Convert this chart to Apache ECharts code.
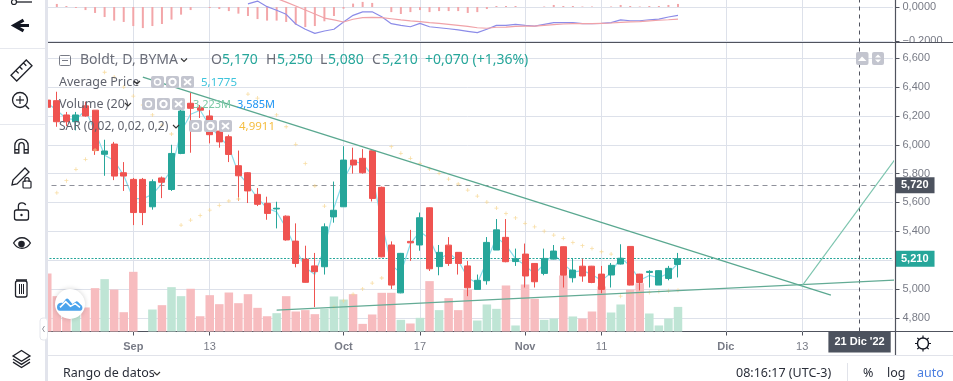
<!DOCTYPE html>
<html><head><meta charset="utf-8">
<style>html,body{margin:0;padding:0;background:#fff}#c{width:953px;height:381px}</style>
<script src="https://cdn.jsdelivr.net/npm/echarts@6/dist/echarts.min.js"></script>
</head><body><div id="c"></div>
<script>
// [open, close, low, high]
const candles = [
[6.31,6.26,6.25,6.33],[6.306,6.16,6.125,6.368],[6.207,6.16,6.13,6.228],[6.16,6.207,6.10,6.228],[6.27,6.20,6.195,6.298],
[6.24,5.96,5.93,6.24],[5.934,5.957,5.785,6.035],[6.005,5.783,5.755,6.02],[5.806,5.783,5.68,5.88],[5.76,5.53,5.443,5.77],
[5.76,5.53,5.443,5.77],[5.57,5.744,5.55,5.76],[5.77,5.74,5.63,5.78],[5.69,5.94,5.68,6.0],[5.94,6.234,5.935,6.26],
[6.288,6.253,5.945,6.36],[6.257,6.24,6.186,6.276],[6.2,6.07,6.01,6.24],[6.095,6.02,5.98,6.13],[6.056,5.933,5.88,6.07],
[5.855,5.785,5.61,5.96],[5.806,5.68,5.596,5.81],[5.656,5.587,5.575,5.70],[5.594,5.524,5.48,5.64],[5.555,5.56,5.42,5.605],
[5.505,5.34,5.335,5.51],[5.332,5.177,5.15,5.455],[5.207,5.046,5.044,5.30],[5.16,5.12,4.874,5.25],[5.154,5.431,5.10,5.455],
[5.50,5.546,5.46,5.745],[5.57,5.894,5.57,5.99],[5.894,5.86,5.80,5.98],[5.906,5.806,5.80,5.97],[5.958,5.628,5.607,5.96],
[5.705,5.223,5.22,5.71],[5.305,5.027,5.0,5.33],[4.973,5.247,4.97,5.25],[5.33,5.32,5.195,5.41],[5.305,5.494,5.265,5.53],
[5.563,5.14,5.125,5.565],[5.155,5.254,5.095,5.305],[5.304,5.177,5.16,5.36],[5.254,5.177,5.10,5.256],[5.16,5.008,4.95,5.195],
[4.997,5.06,4.997,5.10],[5.057,5.323,5.03,5.36],[5.27,5.41,5.27,5.485],[5.358,5.189,5.185,5.485],[5.19,5.21,5.16,5.28],
[5.242,5.09,5.01,5.315],[5.177,5.05,5.01,5.18],[5.108,5.212,5.095,5.28],[5.207,5.263,5.205,5.305],[5.293,5.096,5.01,5.295],
[5.078,5.131,5.045,5.215],[5.158,5.09,5.05,5.21],[5.158,5.045,5.04,5.16],[5.103,4.997,4.97,5.16],[5.097,5.164,5.01,5.18],
[5.173,5.213,5.17,5.31],[5.295,5.027,5.025,5.297],[5.103,5.045,4.99,5.105],[5.115,5.122,5.01,5.13],[5.027,5.127,5.027,5.13],
[5.073,5.143,5.06,5.16],[5.17,5.21,5.08,5.25]];
const avgPrice = [6.29,6.24,6.181,6.174,6.241,6.093,5.928,5.891,5.787,5.626,5.626,5.656,5.73,5.828,6.092,6.212,6.24,6.13,6.056,5.985,
5.803,5.723,5.63,5.56,5.535,5.423,5.279,5.149,5.101,5.285,5.563,5.756,5.884,5.871,5.788,5.465,5.166,5.11,5.314,5.399,
5.348,5.202,5.25,5.197,5.078,5.039,5.193,5.359,5.304,5.21,5.164,5.104,5.174,5.245,5.174,5.117,5.127,5.101,5.058,5.113,
5.217,5.161,5.061,5.094,5.078,5.109,5.1775];
const sar = [null,5.667,5.751,5.83,5.899,5.964,6.503,6.47,6.40,6.338,6.276,6.207,6.137,6.075,5.443,5.478,5.51,5.547,5.58,5.61,
5.624,6.352,6.324,6.269,6.207,6.125,6.003,5.871,5.714,5.575,4.874,4.918,4.964,5.0,5.041,5.076,5.987,5.941,5.906,5.871,
5.832,5.802,5.762,5.728,5.686,5.644,5.603,5.561,5.524,5.493,5.455,5.431,5.401,5.374,5.351,5.323,5.3,5.281,5.258,5.242,
4.95,4.969,4.971,4.976,4.983,4.987,4.991];
const volume = [7.6,4.63,3.67,3.2,3.15,5.68,6.86,5.5,2.53,7.82,0,2.88,3.45,5.81,4.63,5.6,2.0,4.76,3.58,5.11,
3.71,4.89,3.1,2.0,2.4,4.63,2.62,2.8,2.27,2.97,4.59,4.19,4.89,1.0,2.23,5.07,5.07,1.53,1.05,1.79,
6.6,2.8,4.37,2.8,5.5,1.44,3.54,2.97,6.03,0.79,6.16,4.28,1.53,1.7,7.34,1.97,1.7,2.62,5.9,2.49,
3.54,5.5,6.33,2.36,0.79,1.7,3.223];
const volumeUp = [0,0,0,1,0,0,1,0,0,0,0,1,0,1,1,0,0,0,0,0,0,0,0,0,1,0,0,0,0,1,1,1,0,0,0,0,0,1,0,1,0,1,0,0,0,1,1,1,0,1,0,0,1,1,0,1,0,0,0,1,1,0,0,1,1,1,1];
const macdHist = [0,.018,.006,-.006,-.018,-.035,-.059,-.08,-.088,-.112,-.124,-.112,-.1,-.074,-.045,-.018,0,-.006,-.012,-.024,
-.039,-.053,-.071,-.08,-.08,-.088,-.104,-.118,-.112,-.084,-.053,-.01,.02,.03,.024,0,-.03,-.041,-.03,-.018,
-.03,-.024,-.024,-.024,-.035,-.03,-.012,.006,.006,.006,0,0,.003,.012,.006,.006,.003,.003,0,.003,
.012,.006,.003,.006,.006,.012,.018];
const macdLine = [null,null,null,null,null,null,null,null,null,null,null,null,null,null,null,null,null,null,null,null,null,
.018,.035,.002,-.019,-.043,-.1,-.131,-.155,-.141,-.131,-.088,-.049,-.029,-.028,-.057,-.098,-.108,-.116,-.096,-.116,-.122,
-.128,-.135,-.143,-.151,-.131,-.108,-.108,-.102,-.108,-.112,-.102,-.092,-.092,-.092,-.098,-.098,-.096,-.092,-.076,-.081,
-.081,-.075,-.071,-.059,-.049];
const signalLine = [null,null,null,null,null,null,null,null,null,null,null,null,null,null,null,null,null,null,null,null,null,null,null,null,.05,
.029,.006,-.018,-.041,-.065,-.076,-.088,-.072,-.063,-.061,-.063,-.069,-.076,-.082,-.086,-.092,-.096,-.102,-.108,-.114,-.122,
-.125,-.119,-.118,-.114,-.112,-.112,-.108,-.104,-.1,-.098,-.098,-.098,-.096,-.094,-.09,-.088,-.086,-.082,-.078,-.075,-.071];
const trendDown = [[10,6.47],[82,4.957]];
const trendLow = [[24,4.853],[89,5.063]];
const trendUp = [[79,5.023],[89,5.925]];
const priceTicks = [4.8,5.0,5.2,5.4,5.6,5.8,6.0,6.2,6.4,6.6];
const macdTicks = [0,-0.2];
const xTickIndex = [9,17,31,39,50,58,71,79];
const xTickLabels = ['Sep','13','Oct','17','Nov','11','Dic','13'];
const cursorIndex = 85;
const cursorLabel = "21 Dic '22";
const lastPrice = 5.21, refPrice = 5.72;

const BAR_COUNT = 89;
const categories = Array.from({length:BAR_COUNT},(_,i)=>{const k=xTickIndex.indexOf(i);return k>=0?xTickLabels[k]:'';});
const isTick = i => xTickIndex.indexOf(i)>=0;
const UI='"Noto Sans",sans-serif', AX='"Liberation Sans",Arial,sans-serif';
const RED='#ef5350', GREEN='#26a69a', GRID='#dde1ea';
const comma = (v,d)=>v.toFixed(d).replace('.',',').replace('-','\u2212');

function T(text,x,y,fill,size,extra){
  return {type:'text',z:110,style:Object.assign({text,x,y,fill,font:(size||12)+'px '+UI,textVerticalAlign:'middle'},extra||{})};
}
let iconId=0;
function P(d,x,y,w,h,st){
  const nums=d.match(/-?\d+(\.\d+)?/g).map(Number);
  let x0=1e9,x1=-1e9,y0=1e9,y1=-1e9;
  for(let i=0;i<nums.length;i+=2){x0=Math.min(x0,nums[i]);x1=Math.max(x1,nums[i]);y0=Math.min(y0,nums[i+1]);y1=Math.max(y1,nums[i+1]);}
  const s=Math.min(w/(x1-x0),h/(y1-y0));
  const name='tvicon'+(iconId++);
  echarts.graphic.registerShape(name,echarts.graphic.extendPath(d,{}));
  return {type:name,z:110,x:x+(w-(x1-x0)*s)/2-x0*s,y:y+(h-(y1-y0)*s)/2-y0*s,scaleX:s,scaleY:s,
    style:Object.assign({fill:'none',stroke:'#1f2129',lineWidth:1.3,strokeNoScale:true},st||{})};
}
function R(x,y,w,h,fill,r){return {type:'rect',z:105,shape:{x,y,width:w,height:h,r:r||0},style:{fill}};}
function L(x1,y1,x2,y2,c,lw){return {type:'line',z:106,shape:{x1,y1,x2,y2},style:{stroke:c,lineWidth:lw||1}};}
function buttons(x,y){
  const out=[];
  [0,15,30].forEach((dx,i)=>{
    out.push(Object.assign(R(x+dx,y,13,12,'#c3c5cf',2),{z:108}));
    if(i==0){out.push({type:'circle',z:109,shape:{cx:x+6.5,cy:y+6,r:3},style:{fill:'#c3c5cf',stroke:'#fff',lineWidth:1.5}});}
    if(i==1){out.push({type:'circle',z:109,shape:{cx:x+21.5,cy:y+6,r:3.2},style:{fill:'#c3c5cf',stroke:'#fff',lineWidth:2}});}
    if(i==2){out.push({type:'line',z:109,shape:{x1:x+33,y1:y+3,x2:x+40,y2:y+9},style:{stroke:'#fff',lineWidth:1.8}});
             out.push({type:'line',z:109,shape:{x1:x+40,y1:y+3,x2:x+33,y2:y+9},style:{stroke:'#fff',lineWidth:1.8}});}
  });
  return out;
}
function chev(x,y,c){return {type:'polyline',z:110,shape:{points:[[x,y],[x+3,y+3],[x+6,y]]},style:{stroke:c||'#333',lineWidth:1.1,fill:'none'}};}

const chrome = [
  R(0,0,45,381,'#ffffff'), R(45,0,3,381,'#e2e4ec'),
  L(0,48.5,45,48.5,'#e6e8ee'), L(0,124.5,45,124.5,'#e6e8ee'),
  L(11,2,32,2,'#1f2129',1.3), {type:'circle',z:110,shape:{cx:14,cy:2,r:2.5},style:{fill:'#fff',stroke:'#1f2129',lineWidth:1.2}},
  P('M20 4 L6 12 L20 20 M6 12 L28 12',14,16,15,19,{lineWidth:3.2,stroke:'#131722'}),
  P('M3 19 L19 3 L25 9 L9 25 Z M8 14 L11 17 M12 10 L15 13 M16 6 L19 9',11,60,21,21),
  {type:'circle',z:110,shape:{cx:20,cy:100,r:7.5},style:{fill:'none',stroke:'#1f2129',lineWidth:1.3}},
  L(25.5,105.5,29,109,'#1f2129',1.4), L(16,100,24,100,'#1f2129',1.2), L(20,96,20,104,'#1f2129',1.2),
  P('M4 22 L4 11 C4 -2 24 -2 24 11 L24 22 L18 22 L18 11 C18 5 10 5 10 11 L10 22 Z M4 17 L10 17 M18 17 L24 17',14,137,15,16),
  P('M3 21 L4 16 L16 4 L20 8 L8 20 Z',12,168,17,17),
  {type:'rect',z:110,shape:{x:23,y:181,width:8,height:7,r:1},style:{fill:'#fff',stroke:'#1f2129',lineWidth:1.2}},
  P('M1 6 L1 3 C1 0 6 0 6 3 L6 6',24,177,6,5),
  {type:'rect',z:110,shape:{x:14.5,y:210,width:14,height:10,r:2},style:{fill:'#fff',stroke:'#1f2129',lineWidth:1.3}},
  P('M1 9 L1 4 C1 -1 9 -1 10 3',17,202,10,8),
  {type:'circle',z:110,shape:{cx:21.5,cy:215,r:1.2},style:{fill:'#1f2129'}},
  P('M1 8 C7 -2 19 -2 25 8 C19 18 7 18 1 8 Z',13,236,18,14),
  {type:'circle',z:110,shape:{cx:21.5,cy:244,r:3.3},style:{fill:'#1f2129'}},
  {type:'rect',z:110,shape:{x:15.5,y:281,width:11.5,height:16,r:2},style:{fill:'#fff',stroke:'#1f2129',lineWidth:1.3}},
  L(16,280,27,280,'#1f2129',1.5), Object.assign(L(19.5,284,19.5,294,'#1f2129',1),{z:111}), Object.assign(L(21.5,284,21.5,294,'#1f2129',1),{z:111}), Object.assign(L(23.5,284,23.5,294,'#1f2129',1),{z:111}),
  P('M12 1 L23 8 L12 15 L1 8 Z M1 12 L12 19 L23 12 M1 16 L12 23 L23 16',13,350,17,18),
  L(48,42.5,953,42.5,'#50535e',1.2), L(893,331.5,953,331.5,'#50535e',1.2),
  L(895.5,0,895.5,355,'#50535e',1.2), R(896,43,57,7,'#ffffff'),
  L(48,355.5,953,355.5,'#e1e3ea',1.2), L(847.5,363,847.5,381,'#e1e3ea',1),
  {type:'rect',z:108,shape:{x:40,y:318,width:7.5,height:22,r:3},style:{fill:'#fff',stroke:'#e4e6ec',lineWidth:1}},
  {type:'polyline',z:109,shape:{points:[[44.5,326],[42.5,329],[44.5,332]]},style:{stroke:'#9598a1',fill:'none',lineWidth:1}},
  {type:'circle',z:108,shape:{cx:70,cy:304,r:15},style:{fill:'#fff',shadowBlur:5,shadowColor:'rgba(0,0,0,.18)'}},
  P('M1 10 C1 6 5 5 7 6 L10 2 C11 1 12 1 13 2 L17 7 L20 5 C21 4 22 4 23 5 L26 8 C28 9 28 14 25 14 L4 14 C2 14 1 12 1 10 Z',57,298,26,13,{fill:'#4aa3ec',stroke:'none'}),
  Object.assign(P('M4 11 L10 5 L15 10 L20 7 L25 11',60,301,20,7,{stroke:'#fff',lineWidth:1.5}),{z:111}),
  {type:'rect',z:110,shape:{x:59.5,y:55.5,width:11,height:10,r:1},style:{fill:'none',stroke:'#787b86',lineWidth:1}},
  L(62,60.5,68,60.5,'#787b86',1),
  T('Boldt, D, BYMA',80,60.5,'#6a6d78',14), chev(181,58.5),
  T('O',211,60.5,'#6a6d78',14), T('5,170',222,60.5,GREEN,14),
  T('H',266,60.5,'#6a6d78',14), T('5,250',277,60.5,GREEN,14),
  T('L',320,60.5,'#6a6d78',14), T('5,080',328,60.5,GREEN,14),
  T('C',372,60.5,'#6a6d78',14), T('5,210',382,60.5,GREEN,14),
  T('+0,070 (+1,36%)',425,60.5,GREEN,14),
  T('Average Price',59,82.5,'#60636e',12.5), chev(134,81),
  ...buttons(151,76), T('5,1775',201,82.5,'#3fc4dc',11.5),
  T('Volume (20)',59,104.5,'#60636e',12.5), chev(125,103),
  ...buttons(142,98), T('3,223M',193,104.5,'#79c9a4',11), T('3,585M',237,104.5,'#2196f3',11),
  T('SAR (0,02, 0,02, 0,2)',59,126.5,'#60636e',12), chev(173,125),
  ...buttons(189,120), T('4,9911',239,126.5,'#f5bd3f',11.5),
  Object.assign(R(856,52,12.5,13,'#c3c5cf',2),{z:108}), Object.assign(R(872,52,12,13,'#c3c5cf',2),{z:108}),
  {type:'polygon',z:110,shape:{points:[[858,61],[862,56.5],[866.5,61]]},style:{fill:'#fff'}},
  {type:'polygon',z:110,shape:{points:[[875,57.5],[878,54.5],[881,57.5]]},style:{fill:'#fff'}},
  {type:'polygon',z:110,shape:{points:[[875,59.5],[878,62.5],[881,59.5]]},style:{fill:'#fff'}},
  {type:'circle',z:110,shape:{cx:923,cy:343.5,r:5.5},style:{fill:'none',stroke:'#131722',lineWidth:1.4}},
  P('M8 0 L8 2.5 M8 13.5 L8 16 M0 8 L2.5 8 M13.5 8 L16 8 M2.3 2.3 L4 4 M12 12 L13.7 13.7 M2.3 13.7 L4 12 M12 4 L13.7 2.3',915,335.5,16,16,{lineWidth:1.2,stroke:'#131722'}),
  T('Rango de datos',63,373,'#2a2e39',12.5), chev(154,372),
  T('08:16:17 (UTC-3)',736,373,'#2a2e39',12.5),
  T('%',863,373,'#2a2e39',12.5), T('log',887,373,'#2a2e39',12.5), T('auto',917,373,'#4c7fe0',12.5),
];

const xAxisBase = {type:'category',data:categories,boundaryGap:true};
const gridMark = (ticks)=>({silent:true,symbol:'none',animation:false,z:1,label:{show:false},lineStyle:{color:GRID,type:'solid',width:1},
  data:[...ticks.map(v=>({yAxis:v})),...xTickIndex.map(i=>({xAxis:i}))]});

const option = {
  animation:false,
  backgroundColor:'#fff',
  grid:[
    {left:42.5,width:850.5,top:0,height:42.5},
    {left:42.5,width:850.5,top:43,height:288.5}
  ],
  xAxis:[
    Object.assign({},xAxisBase,{gridIndex:0,axisLine:{show:false},axisTick:{show:false},axisLabel:{show:false},splitLine:{show:false}}),
    Object.assign({},xAxisBase,{gridIndex:1,
      axisLine:{show:true,lineStyle:{color:'#50535e',width:1.2}},
      axisTick:{show:true,length:4,alignWithLabel:true,interval:(i)=>isTick(i),lineStyle:{color:'#50535e'}},
      axisLabel:{show:true,interval:(i)=>isTick(i),margin:10,color:'#787b86',fontFamily:AX,fontSize:11,
        formatter:(v)=>/\d/.test(v)?v:'{m|'+v+'}',
        rich:{m:{fontWeight:'bold',color:'#787b86',fontFamily:AX,fontSize:11}}},
      splitLine:{show:false}})
  ],
  yAxis:[
    {type:'value',gridIndex:0,position:'right',offset:2.5,min:-0.2088,max:0.0412,scale:true,
      axisLine:{show:false},axisTick:{show:true,length:4,customValues:macdTicks,lineStyle:{color:'#50535e'}},
      axisLabel:{customValues:macdTicks,margin:7,color:'#787b86',fontFamily:AX,fontSize:11,formatter:(v)=>comma(v,4)},
      splitLine:{show:false}},
    {type:'value',gridIndex:1,position:'right',offset:2.5,min:4.705,max:6.706,scale:true,
      axisLine:{show:false},axisTick:{show:true,length:4,customValues:priceTicks,lineStyle:{color:'#50535e'}},
      axisLabel:{customValues:priceTicks,margin:7,color:'#787b86',fontFamily:AX,fontSize:11,formatter:(v)=>comma(v,3)},
      splitLine:{show:false}},
    {type:'value',gridIndex:1,show:false,min:0,max:37.8,splitLine:{show:false}}
  ],
  series:[
    {type:'bar',name:'MACD',xAxisIndex:0,yAxisIndex:0,data:macdHist,barWidth:2,itemStyle:{color:'#f3a6a9'},z:2,markLine:gridMark(macdTicks)},
    {type:'line',name:'MACD line',xAxisIndex:0,yAxisIndex:0,data:macdLine,showSymbol:false,lineStyle:{color:'#8c8ce8',width:1.2},z:3,
      markLine:{silent:true,symbol:'none',animation:false,label:{show:false},lineStyle:{color:'#50535e',type:[4,4],width:1},data:[{xAxis:cursorIndex}]}},
    {type:'line',name:'Signal',xAxisIndex:0,yAxisIndex:0,data:signalLine,showSymbol:false,lineStyle:{color:'#f0a2a8',width:1.2},z:3},
    {type:'bar',name:'Volume',xAxisIndex:1,yAxisIndex:2,barWidth:8.5,z:2,
      data:volume.map((v,i)=>({value:v,itemStyle:{color:volumeUp[i]?'#bfe5d5':'#f7bcbf'}}))},
    {type:'line',name:'Average Price',xAxisIndex:1,yAxisIndex:1,data:avgPrice,showSymbol:false,lineStyle:{color:'#8addea',width:1.2},z:3,markLine:gridMark(priceTicks)},
    {type:'candlestick',name:'Boldt',xAxisIndex:1,yAxisIndex:1,data:candles,barWidth:6.5,z:4,
      itemStyle:{color:GREEN,color0:RED,borderColor:GREEN,borderColor0:RED,borderWidth:1},
      markLine:{silent:true,symbol:'none',animation:false,precision:3,z:4,data:[
        {yAxis:refPrice,lineStyle:{color:'#8f919b',type:[5,4],width:1},
          label:{show:true,position:'end',distance:2,formatter:comma(refPrice,3),color:'#fff',fontFamily:AX,fontSize:11,fontWeight:'bold',backgroundColor:'#4c525e',padding:[3,6,2,6]}},
        {yAxis:lastPrice,lineStyle:{color:GREEN,type:[2,1.5],width:1},
          label:{show:true,position:'end',distance:2,formatter:comma(lastPrice,3),color:'#fff',fontFamily:AX,fontSize:11,fontWeight:'bold',backgroundColor:GREEN,padding:[3,6,2,6]}},
        {xAxis:cursorIndex,lineStyle:{color:'#50535e',type:[4,4],width:1},
          label:{show:true,position:'start',distance:0,formatter:cursorLabel,color:'#fff',fontFamily:AX,fontSize:11,fontWeight:'bold',backgroundColor:'#4c525e',padding:[5,6,5,6]}}
      ]}},
    {type:'scatter',name:'SAR',xAxisIndex:1,yAxisIndex:1,data:sar,symbol:'path://M4 0h2v4h4v2H6v4H4V6H0V4h4z',symbolSize:4,itemStyle:{color:'#f6d48c'},z:5},
    {type:'line',name:'Trend down',xAxisIndex:1,yAxisIndex:1,data:trendDown,showSymbol:false,clip:true,lineStyle:{color:'#5aa890',width:1.3},z:6},
    {type:'line',name:'Trend low',xAxisIndex:1,yAxisIndex:1,data:trendLow,showSymbol:false,clip:true,lineStyle:{color:'#63ab95',width:1.3},z:6},
    {type:'line',name:'Trend up',xAxisIndex:1,yAxisIndex:1,data:trendUp,showSymbol:false,clip:true,lineStyle:{color:'#7cc4ae',width:1.1},z:6}
  ],
  graphic:{elements:chrome}
};
const chart = echarts.init(document.getElementById('c'),null,{renderer:'canvas'});
chart.setOption(option);
</script></body></html>
